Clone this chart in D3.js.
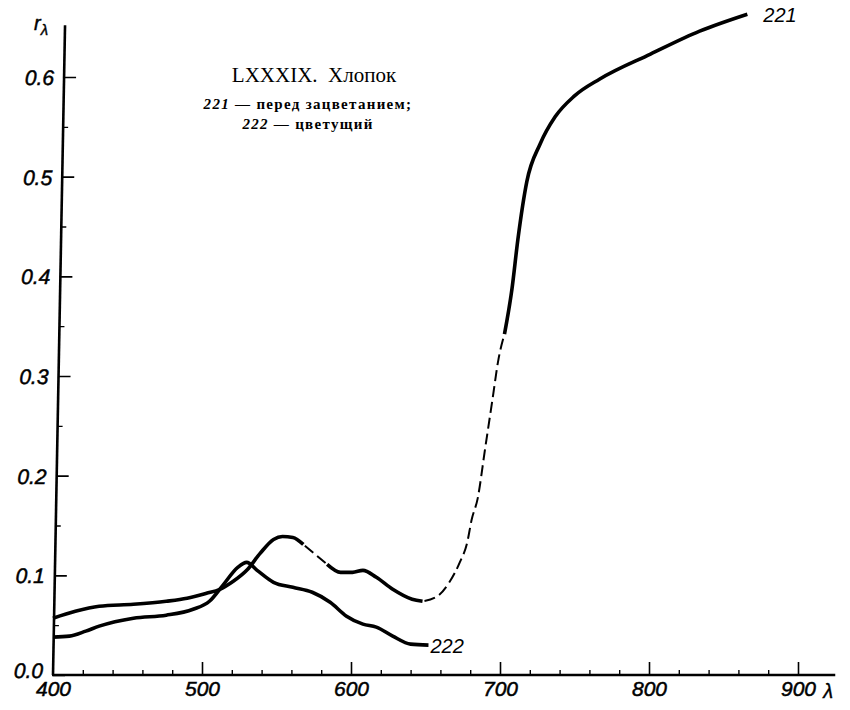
<!DOCTYPE html>
<html>
<head>
<meta charset="utf-8">
<script src="https://cdn.jsdelivr.net/npm/d3@7"></script>
<style>
  html, body { margin: 0; padding: 0; background: #fff; }
  svg { display: block; }
</style>
</head>
<body>
<svg id="chart" width="850" height="710"></svg>
<script>
// ---- data ----
const lambda221 = [400, 415, 431, 454, 476, 490, 503, 512, 521, 530, 539, 548, 554, 561, 568, 584, 593, 601, 608, 617, 628, 641, 648, 658, 666, 673, 678, 681, 685, 690, 695, 699, 703, 708, 712, 718, 727, 737, 750, 767, 801, 834, 866];
const refl221   = [0.057, 0.064, 0.069, 0.071, 0.074, 0.077, 0.082, 0.086, 0.094, 0.105, 0.122, 0.136, 0.139, 0.138, 0.131, 0.111, 0.103, 0.103, 0.105, 0.098, 0.086, 0.076, 0.074, 0.079, 0.093, 0.113, 0.133, 0.156, 0.177, 0.227, 0.277, 0.317, 0.342, 0.387, 0.437, 0.495, 0.533, 0.560, 0.581, 0.598, 0.623, 0.646, 0.663];
const dashed221 = [[568, 584], [648, 703]];

const lambda222 = [400, 411, 422, 431, 454, 476, 494, 505, 514, 524, 530, 537, 548, 561, 574, 586, 597, 608, 617, 628, 640, 652];
const refl222   = [0.038, 0.039, 0.044, 0.049, 0.057, 0.060, 0.066, 0.074, 0.090, 0.108, 0.113, 0.105, 0.093, 0.088, 0.083, 0.073, 0.059, 0.051, 0.048, 0.039, 0.031, 0.030];

const xTicks = [400, 500, 600, 700, 800, 900];
const xMinorTicks = [420, 440, 460, 480, 520, 540, 560, 580, 620, 640, 660, 680, 720, 740, 760, 780, 820, 840, 860, 880];
const yTicks = [0.0, 0.1, 0.2, 0.3, 0.4, 0.5, 0.6];
const yMinorTicks = [0.05, 0.15, 0.25, 0.35, 0.45, 0.55];

const titleText = "LXXXIX.  Хлопок";
const legendLines = [["221", " — перед зацветанием;"], ["222", " — цветущий"]];
const curveLabels = ["221", "222"];

// ---- drawing ----
const svg = d3.select("#chart");
const x = d3.scaleLinear().domain([400, 900]).range([53, 798]);
const y = d3.scaleLinear().domain([0, 0.6]).range([675, 77]);

const tickFont = "'Liberation Sans', Arial, sans-serif";
const y0 = y(0);
// the printed vertical axis leans slightly to the right
const lean = -Math.atan(12 / (y(0) - y(0.65))) * 180 / Math.PI;

const yG = svg.append("g")
  .attr("transform", `translate(${x(400)},${y0}) skewX(${lean}) translate(0,${-y0})`);

const yAxis = yG.append("g")
  .call(d3.axisLeft(y).tickValues(yTicks).tickFormat(d3.format(".1f"))
        .tickSizeInner(-12).tickSizeOuter(0).tickPadding(10));
yAxis.select(".domain").remove();
yAxis.selectAll(".tick line").attr("stroke", "#000").attr("stroke-width", 1.6);
yAxis.selectAll(".tick text").attr("font-family", tickFont).attr("font-style", "italic")
  .attr("font-size", 21).attr("fill", "#000").attr("stroke", "#000").attr("stroke-width", 0.5)
  .attr("dy", d => d === 0 ? "0.1em" : "0.36em");
const yMinor = yG.append("g")
  .call(d3.axisLeft(y).tickValues(yMinorTicks).tickFormat("").tickSizeInner(-5).tickSizeOuter(0));
yMinor.select(".domain").remove();
yMinor.selectAll(".tick line").attr("stroke", "#000").attr("stroke-width", 1.4);

yG.append("line").attr("x1", 0).attr("x2", 0)
  .attr("y1", y(0)).attr("y2", y(0.652))
  .attr("stroke", "#000").attr("stroke-width", 2.6);

// x axis
const xAxis = svg.append("g").attr("transform", `translate(0,${y0})`)
  .call(d3.axisBottom(x).tickValues(xTicks).tickFormat(d3.format("d"))
        .tickSizeInner(-13).tickSizeOuter(0).tickPadding(6));
xAxis.select(".domain").remove();
xAxis.selectAll(".tick line").attr("stroke", "#000").attr("stroke-width", 1.6);
xAxis.selectAll(".tick text").attr("font-family", tickFont).attr("font-style", "italic")
  .attr("font-size", 21).attr("fill", "#000").attr("stroke", "#000").attr("stroke-width", 0.5);
xAxis.selectAll(".tick").filter(d => d === 400).select("line").remove();
const xMinor = svg.append("g").attr("transform", `translate(0,${y0})`)
  .call(d3.axisBottom(x).tickValues(xMinorTicks).tickFormat("").tickSizeInner(-5).tickSizeOuter(0));
xMinor.select(".domain").remove();
xMinor.selectAll(".tick line").attr("stroke", "#000").attr("stroke-width", 1.4);

svg.append("line").attr("x1", x(400) - 1).attr("x2", x(925))
  .attr("y1", y0).attr("y2", y0)
  .attr("stroke", "#000").attr("stroke-width", 2.6);

// axis titles
const rLab = svg.append("text").attr("x", 34).attr("y", 30)
  .attr("font-family", tickFont).attr("font-style", "italic").attr("font-size", 20)
  .attr("stroke", "#000").attr("stroke-width", 0.4);
rLab.append("tspan").text("r");
rLab.append("tspan").attr("dy", 5).attr("font-size", 15).text("λ");

svg.append("text").attr("x", x(925) - 12).attr("y", y0 + 23)
  .attr("font-family", tickFont).attr("font-style", "italic").attr("font-size", 20)
  .attr("stroke", "#000").attr("stroke-width", 0.4)
  .text("λ");

// curves
function segments(lams, vals, dashedRanges) {
  const segs = [];
  for (let i = 0; i < lams.length - 1; i++) {
    const mid = (lams[i] + lams[i + 1]) / 2;
    const dashed = dashedRanges.some(r => mid > r[0] && mid < r[1]);
    const last = segs[segs.length - 1];
    if (last && last.dashed === dashed) {
      last.pts.push([lams[i + 1], vals[i + 1]]);
    } else {
      segs.push({ dashed, pts: [[lams[i], vals[i]], [lams[i + 1], vals[i + 1]]] });
    }
  }
  return segs;
}
const line = d3.line().x(d => x(d[0])).y(d => y(d[1])).curve(d3.curveMonotoneX);

function drawCurve(lams, vals, dashedRanges) {
  segments(lams, vals, dashedRanges).forEach(s => {
    svg.append("path").attr("d", line(s.pts))
      .attr("fill", "none").attr("stroke", "#000")
      .attr("stroke-width", s.dashed ? 2 : 3.6)
      .attr("stroke-linecap", "butt")
      .attr("stroke-dasharray", s.dashed ? "11,5" : null)
      .attr("stroke-dashoffset", s.dashed ? 14 : null);
  });
}
drawCurve(lambda221, refl221, dashed221);
drawCurve(lambda222, refl222, []);

// curve labels
svg.append("text").attr("x", x(lambda221[lambda221.length - 1]) + 16)
  .attr("y", y(refl221[refl221.length - 1]) + 8)
  .attr("font-family", tickFont).attr("font-style", "italic").attr("font-size", 20)
  .text(curveLabels[0]);
svg.append("text").attr("x", x(lambda222[lambda222.length - 1]) + 2)
  .attr("y", y(refl222[refl222.length - 1]) + 8)
  .attr("font-family", tickFont).attr("font-style", "italic").attr("font-size", 20)
  .text(curveLabels[1]);

// title and legend
const serif = "'Liberation Serif', 'Times New Roman', serif";
svg.append("text").attr("x", 314).attr("y", 82).attr("text-anchor", "middle")
  .attr("font-family", serif).attr("font-size", 21).attr("xml:space", "preserve")
  .style("white-space", "pre").text(titleText);
legendLines.forEach((l, i) => {
  const t = svg.append("text").attr("x", 308).attr("y", 109 + i * 20).attr("text-anchor", "middle")
    .attr("font-family", serif).attr("font-size", 15).attr("font-weight", "bold")
    .attr("letter-spacing", 1.3);
  t.append("tspan").attr("font-style", "italic").text(l[0]);
  t.append("tspan").text(l[1]);
});
</script>
</body>
</html>
